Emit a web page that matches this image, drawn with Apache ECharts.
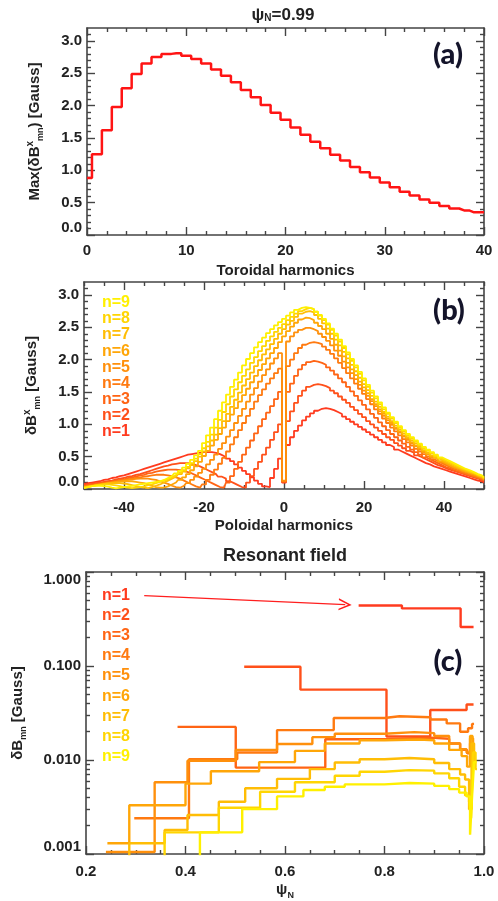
<!DOCTYPE html>
<html>
<head>
<meta charset="utf-8">
<script src="https://cdn.jsdelivr.net/npm/echarts@6/dist/echarts.min.js"></script>
<style>
  html, body { margin: 0; padding: 0; background: #fff; }
  #main { width: 498px; height: 901px; }
</style>
</head>
<body>
<div id="main"></div>
<script>
// ---- panel (a): max field per toroidal harmonic (psi_N = 0.99)
const toroidalN = [0,1,2,3,4,5,6,7,8,9,10,11,12,13,14,15,16,17,18,19,20,
  21,22,23,24,25,26,27,28,29,30,31,32,33,34,35,36,37,38,39,40];
const maxDeltaB = [0.88,1.25,1.62,1.98,2.27,2.49,2.65,2.75,2.80,2.81,2.77,2.72,2.65,2.56,2.46,2.36,
  2.24,2.13,2.01,1.89,1.78,1.66,1.55,1.44,1.34,1.24,1.15,1.05,0.97,0.89,0.81,0.74,0.67,0.61,0.55,
  0.50,0.45,0.41,0.38,0.35,0.35];

// ---- panel (b): poloidal spectrum for n = 1..9
const poloidalM = [-50,-49,-48,-47,-46,-45,-44,-43,-42,-41,-40,-39,-38,-37,-36,-35,-34,-33,-32,-31,
  -30,-29,-28,-27,-26,-25,-24,-23,-22,-21,-20,-19,-18,-17,-16,-15,-14,-13,-12,-11,
  -10,-9,-8,-7,-6,-5,-4,-3,-2,-1,0,1,2,3,4,5,6,7,8,9,10,11,12,13,14,15,16,17,18,19,
  20,21,22,23,24,25,26,27,28,29,30,31,32,33,34,35,36,37,38,39,40,41,42,43,44,45,46,47,48,49,50];
const bN1 = [0.08,0.09,0.10,0.11,0.12,0.14,0.15,0.17,0.18,0.20,
  0.21,0.23,0.25,0.27,0.29,0.31,0.33,0.35,0.37,0.39,
  0.41,0.43,0.45,0.47,0.49,0.51,0.53,0.54,0.55,0.56,
  0.57,0.57,0.57,0.56,0.54,0.51,0.47,0.43,0.38,0.33,
  0.28,0.23,0.18,0.13,0.08,0.04,0.03,0.17,0.31,0.47,
  0.10,0.68,0.80,0.90,0.98,1.06,1.12,1.17,1.21,1.24,
  1.25,1.24,1.22,1.19,1.16,1.12,1.08,1.04,1.00,0.96,
  0.92,0.88,0.84,0.80,0.76,0.72,0.68,0.65,0.61,0.58,
  0.55,0.52,0.49,0.46,0.43,0.40,0.38,0.35,0.33,0.31,
  0.29,0.27,0.25,0.23,0.21,0.19,0.17,0.15,0.13,0.12,0.10];
const bN2 = [0.06,0.07,0.08,0.09,0.10,0.11,0.12,0.13,0.15,0.16,
  0.17,0.19,0.20,0.22,0.23,0.25,0.27,0.29,0.31,0.33,
  0.35,0.36,0.38,0.39,0.40,0.40,0.40,0.39,0.37,0.35,
  0.32,0.29,0.26,0.23,0.19,0.16,0.12,0.09,0.06,0.03,
  0.02,0.10,0.20,0.31,0.42,0.53,0.64,0.76,0.88,1.00,
  0.11,1.05,1.20,1.33,1.44,1.52,1.58,1.61,1.62,1.61,
  1.59,1.56,1.52,1.48,1.43,1.38,1.33,1.27,1.22,1.16,
  1.11,1.05,1.00,0.95,0.90,0.85,0.80,0.76,0.71,0.67,
  0.63,0.59,0.56,0.52,0.49,0.46,0.43,0.40,0.37,0.35,
  0.32,0.30,0.28,0.26,0.24,0.22,0.20,0.18,0.16,0.14,0.12];
const bN3 = [0.05,0.06,0.07,0.08,0.09,0.10,0.11,0.12,0.13,0.14,
  0.15,0.17,0.18,0.19,0.21,0.22,0.24,0.25,0.27,0.28,
  0.29,0.30,0.30,0.30,0.29,0.28,0.26,0.24,0.21,0.18,
  0.15,0.12,0.09,0.06,0.03,0.02,0.10,0.20,0.31,0.42,
  0.53,0.64,0.75,0.86,0.97,1.08,1.18,1.28,1.39,1.50,
  0.12,1.50,1.63,1.75,1.85,1.92,1.96,1.98,1.97,1.95,
  1.92,1.88,1.83,1.77,1.71,1.65,1.58,1.51,1.44,1.37,
  1.30,1.23,1.16,1.10,1.03,0.97,0.91,0.85,0.80,0.75,
  0.70,0.65,0.61,0.57,0.53,0.49,0.46,0.43,0.40,0.37,
  0.34,0.32,0.29,0.27,0.25,0.23,0.21,0.19,0.17,0.15,0.13];
const bN4 = [0.04,0.05,0.06,0.07,0.08,0.09,0.10,0.11,0.12,0.13,
  0.14,0.15,0.16,0.17,0.18,0.19,0.20,0.21,0.22,0.22,
  0.22,0.21,0.20,0.18,0.16,0.13,0.10,0.07,0.04,0.02,
  0.07,0.14,0.22,0.30,0.39,0.48,0.58,0.69,0.80,0.91,
  1.02,1.13,1.24,1.35,1.45,1.54,1.63,1.71,1.79,1.86,
  0.12,1.90,2.00,2.10,2.18,2.23,2.26,2.27,2.26,2.24,
  2.20,2.15,2.09,2.02,1.95,1.87,1.79,1.71,1.63,1.55,
  1.47,1.39,1.31,1.23,1.16,1.09,1.02,0.95,0.89,0.83,
  0.77,0.72,0.67,0.62,0.58,0.54,0.50,0.46,0.43,0.40,
  0.37,0.34,0.31,0.29,0.26,0.24,0.22,0.20,0.18,0.16,0.14];
const bN5 = [0.035,0.04,0.05,0.06,0.07,0.08,0.09,0.10,0.11,0.12,
  0.13,0.14,0.15,0.155,0.16,0.16,0.16,0.15,0.14,0.12,
  0.10,0.08,0.05,0.03,0.02,0.05,0.09,0.14,0.19,0.25,
  0.31,0.38,0.45,0.53,0.62,0.71,0.81,0.91,1.02,1.13,
  1.24,1.35,1.46,1.56,1.66,1.76,1.85,1.94,2.02,2.10,
  0.13,2.28,2.36,2.42,2.46,2.49,2.49,2.47,2.44,2.40,
  2.35,2.29,2.22,2.14,2.06,1.97,1.88,1.79,1.70,1.61,
  1.52,1.44,1.36,1.28,1.20,1.13,1.06,0.99,0.93,0.87,
  0.81,0.76,0.70,0.66,0.61,0.57,0.53,0.49,0.46,0.42,
  0.39,0.36,0.33,0.31,0.28,0.26,0.24,0.22,0.20,0.17,0.15];
const bN6 = [0.03,0.04,0.05,0.06,0.07,0.08,0.09,0.10,0.11,0.115,
  0.12,0.12,0.12,0.11,0.10,0.09,0.07,0.05,0.03,0.02,
  0.02,0.04,0.07,0.10,0.14,0.18,0.23,0.29,0.35,0.42,
  0.51,0.59,0.67,0.76,0.85,0.95,1.05,1.15,1.25,1.35,
  1.45,1.55,1.65,1.75,1.84,1.93,2.02,2.10,2.18,2.27,
  2.36,2.44,2.51,2.57,2.62,2.65,2.64,2.61,2.57,2.52,
  2.47,2.40,2.32,2.23,2.14,2.05,1.95,1.85,1.76,1.66,
  1.57,1.48,1.39,1.31,1.23,1.16,1.09,1.02,0.95,0.89,
  0.83,0.78,0.72,0.67,0.63,0.58,0.54,0.50,0.47,0.43,
  0.40,0.37,0.34,0.32,0.29,0.27,0.25,0.23,0.20,0.18,0.15];
const bN7 = [0.025,0.035,0.045,0.055,0.065,0.075,0.085,0.09,0.09,0.09,
  0.085,0.075,0.06,0.045,0.03,0.02,0.015,0.03,0.05,0.07,
  0.10,0.13,0.16,0.19,0.23,0.27,0.32,0.37,0.43,0.50,
  0.58,0.66,0.75,0.84,0.94,1.05,1.16,1.27,1.38,1.49,
  1.60,1.70,1.80,1.90,1.99,2.08,2.16,2.24,2.32,2.40,
  2.47,2.54,2.60,2.66,2.71,2.74,2.75,2.73,2.69,2.63,
  2.56,2.48,2.40,2.31,2.22,2.12,2.02,1.92,1.82,1.72,
  1.62,1.53,1.44,1.35,1.27,1.19,1.12,1.05,0.98,0.92,
  0.86,0.80,0.75,0.70,0.65,0.60,0.56,0.52,0.48,0.45,
  0.42,0.39,0.36,0.33,0.31,0.28,0.26,0.24,0.21,0.19,0.16];
const bN8 = [0.02,0.03,0.045,0.055,0.065,0.07,0.07,0.065,0.055,0.045,
  0.03,0.02,0.015,0.02,0.03,0.04,0.06,0.07,0.09,0.11,
  0.13,0.15,0.18,0.21,0.25,0.29,0.34,0.40,0.47,0.54,
  0.63,0.73,0.84,0.95,1.07,1.19,1.31,1.43,1.54,1.65,
  1.75,1.85,1.95,2.04,2.13,2.21,2.29,2.36,2.43,2.49,
  2.55,2.61,2.66,2.71,2.75,2.78,2.80,2.78,2.74,2.68,
  2.61,2.54,2.46,2.37,2.28,2.18,2.08,1.98,1.88,1.78,
  1.68,1.58,1.49,1.40,1.31,1.23,1.16,1.09,1.02,0.95,
  0.89,0.83,0.78,0.73,0.68,0.63,0.59,0.55,0.51,0.47,
  0.44,0.41,0.38,0.35,0.32,0.30,0.27,0.25,0.22,0.20,0.17];
const bN9 = [0.015,0.03,0.045,0.05,0.05,0.045,0.035,0.02,0.01,0.02,
  0.03,0.04,0.05,0.06,0.07,0.08,0.09,0.10,0.11,0.12,
  0.14,0.17,0.20,0.24,0.28,0.33,0.39,0.45,0.52,0.59,
  0.71,0.83,0.95,1.08,1.21,1.34,1.46,1.58,1.69,1.80,
  1.91,2.01,2.10,2.19,2.27,2.34,2.41,2.47,2.53,2.58,
  2.63,2.68,2.73,2.77,2.80,2.81,2.80,2.78,2.74,2.69,
  2.63,2.56,2.48,2.40,2.31,2.21,2.11,2.01,1.91,1.81,
  1.71,1.61,1.52,1.43,1.34,1.26,1.18,1.11,1.04,0.97,
  0.91,0.85,0.80,0.75,0.70,0.65,0.61,0.57,0.53,0.49,
  0.46,0.43,0.40,0.37,0.34,0.31,0.29,0.26,0.23,0.21,0.18];

// ---- panel (c): resonant field vs psi_N (step starts, value held to next start)
const res1Psi = [0.748, 0.835, 0.953, 0.979];
const res1Val = [0.44, 0.41, 0.26, 0.26];
const res2Psi = [0.518, 0.631, 0.804, 0.892, 0.965, 0.979];
const res2Val = [0.098, 0.056, 0.0178, 0.034, 0.039, 0.039];
const res3Psi = [0.384, 0.501, 0.681, 0.80, 0.892, 0.93, 0.952, 0.966, 0.972, 0.978, 0.982];
const res3Val = [0.0225, 0.0083, 0.0166, 0.0173, 0.0168, 0.0150, 0.0128, 0.0118, 0.0150, 0.0105, 0.0105];
const res4Psi = [0.297, 0.407, 0.504, 0.584, 0.698, 0.80, 0.83, 0.892, 0.925, 0.952, 0.968, 0.976, 0.980];
const res4Val = [0.0024, 0.0102, 0.0120, 0.0208, 0.0280, 0.0292, 0.0285, 0.0270, 0.0245, 0.0200, 0.0218, 0.0242, 0.0242];
const res5Psi = [0.24, 0.338, 0.404, 0.501, 0.584, 0.655, 0.70, 0.80, 0.86, 0.90, 0.93, 0.952, 0.965, 0.972, 0.978, 0.982];
const res5Val = [0.00105, 0.0058, 0.0098, 0.0128, 0.0148, 0.0175, 0.0190, 0.0198, 0.0193, 0.0180, 0.0150, 0.0130, 0.0120, 0.0170, 0.0130, 0.0130];
const res6Psi = [0.243, 0.287, 0.40, 0.451, 0.548, 0.62, 0.68, 0.75, 0.80, 0.87, 0.90, 0.93, 0.955, 0.966, 0.972, 0.977, 0.982];
const res6Val = [0.0013, 0.0033, 0.0056, 0.0076, 0.0095, 0.0125, 0.0150, 0.0162, 0.0165, 0.0162, 0.0150, 0.0128, 0.0110, 0.0085, 0.0180, 0.0090, 0.0090];
const res7Psi = [0.26, 0.287, 0.358, 0.404, 0.467, 0.52, 0.584, 0.65, 0.70, 0.75, 0.80, 0.85, 0.90, 0.93, 0.952, 0.962, 0.970, 0.975, 0.980, 0.984];
const res7Val = [0.0007, 0.0013, 0.0018, 0.0026, 0.0036, 0.0050, 0.0063, 0.0080, 0.0094, 0.0102, 0.0105, 0.0102, 0.0093, 0.0080, 0.0070, 0.0062, 0.0030, 0.0150, 0.0085, 0.0085];
const res8Psi = [0.33, 0.358, 0.467, 0.55, 0.62, 0.70, 0.75, 0.80, 0.85, 0.90, 0.93, 0.95, 0.962, 0.970, 0.974, 0.978, 0.983, 0.986];
const res8Val = [0.0007, 0.0017, 0.0031, 0.0046, 0.0058, 0.0068, 0.0075, 0.0078, 0.0077, 0.0072, 0.0064, 0.0052, 0.0042, 0.0036, 0.0024, 0.0120, 0.0080, 0.0080];
const res9Psi = [0.40, 0.429, 0.514, 0.584, 0.637, 0.68, 0.72, 0.80, 0.85, 0.90, 0.93, 0.95, 0.965, 0.972, 0.976, 0.980, 0.985];
const res9Val = [0.0006, 0.0017, 0.0030, 0.0041, 0.0048, 0.0052, 0.0055, 0.0057, 0.0056, 0.0053, 0.0049, 0.0045, 0.0041, 0.0016, 0.0041, 0.0095, 0.0095];
const arrowFrom = [0.317, 0.56];
const arrowTo = [0.721, 0.45];

// ---- tick values
const torMajor = [0, 10, 20, 30, 40];
const torMinor = [2,4,6,8,12,14,16,18,22,24,26,28,32,34,36,38];
const fieldMajor = [0, 0.5, 1, 1.5, 2, 2.5, 3];
const fieldMinor = [0.1,0.2,0.3,0.4,0.6,0.7,0.8,0.9,1.1,1.2,1.3,1.4,1.6,1.7,1.8,1.9,2.1,2.2,2.3,2.4,2.6,2.7,2.8,2.9,3.1];
const polMajor = [-40, -20, 0, 20, 40];
const polMinor = [-50,-45,-35,-30,-25,-15,-10,-5,5,10,15,25,30,35,45,50];
const psiMajor = [0.2, 0.4, 0.6, 0.8, 1.0];
const psiMinor = [0.25,0.3,0.35,0.45,0.5,0.55,0.65,0.7,0.75,0.85,0.9,0.95];
const resMajor = [0.001, 0.01, 0.1, 1];
const resMinor = [0.002,0.003,0.004,0.005,0.006,0.007,0.008,0.009,
  0.02,0.03,0.04,0.05,0.06,0.07,0.08,0.09,0.2,0.3,0.4,0.5,0.6,0.7,0.8,0.9];

const nLabels = ['n=1','n=2','n=3','n=4','n=5','n=6','n=7','n=8','n=9'];
const nColors = ['#ff3b1f','#ff501a','#ff6414','#ff7a10','#ff900c','#ffa608','#ffbd05','#ffd503','#fff000'];

const FONT = '"Liberation Sans", Arial, sans-serif';
const INK = '#222';
const BOX = '#444';

const chart = echarts.init(document.getElementById('main'));

const subSup = {
  sup: { fontSize: 10, fontWeight: 'bold', fontFamily: FONT, color: INK, verticalAlign: 'top' },
  sub: { fontSize: 9, fontWeight: 'bold', fontFamily: FONT, color: INK, verticalAlign: 'bottom' }
};

// four axes per side pair: main (labels+major ticks), minor ticks, opposite major, opposite minor
function axisSet(dim, g, type, min, max, majors, minors, main) {
  const first = dim === 'x' ? 'bottom' : 'left';
  const second = dim === 'x' ? 'top' : 'right';
  const mk = (pos, ticks, len, line, extra) => Object.assign({
    type: type, gridIndex: g, min: min, max: max, position: pos,
    logBase: 10,
    splitLine: { show: false },
    axisLine: { show: line, onZero: false, lineStyle: { color: BOX, width: 1.6 } },
    axisTick: { show: true, inside: true, length: len, customValues: ticks,
      lineStyle: { color: BOX, width: 1.4 } },
    axisLabel: { show: false }
  }, extra || {});
  return [
    mk(first, majors, 8, true, main),
    mk(first, minors, 4, false),
    mk(second, majors, 8, true),
    mk(second, minors, 4, false)
  ];
}

function labelStyle(values, fmt, margin, extra) {
  return Object.assign({ show: true, customValues: values, formatter: fmt, margin: margin,
    color: INK, fontFamily: FONT, fontWeight: 'bold', fontSize: 15 }, extra || {});
}
function nameStyle() {
  return { color: INK, fontFamily: FONT, fontWeight: 'bold', fontSize: 15, lineHeight: 20, rich: subSup };
}

const xAxes = [].concat(
  axisSet('x', 0, 'value', 0, 40, torMajor, torMinor, {
    axisLabel: labelStyle(torMajor, v => String(v), 8),
    name: 'Toroidal harmonics', nameLocation: 'middle', nameGap: 26, nameTextStyle: nameStyle()
  }),
  axisSet('x', 1, 'value', -50, 50, polMajor, polMinor, {
    axisLabel: labelStyle(polMajor, v => String(v), 11),
    name: 'Poloidal harmonics', nameLocation: 'middle', nameGap: 27, nameTextStyle: nameStyle()
  }),
  axisSet('x', 2, 'value', 0.2, 1.0, psiMajor, psiMinor, {
    axisLabel: labelStyle(psiMajor, v => v.toFixed(1), 10),
    name: 'ψ{sub|N}', nameLocation: 'middle', nameGap: 26, nameTextStyle: nameStyle()
  })
);

const yAxes = [].concat(
  axisSet('y', 0, 'value', 0, 3.2, fieldMajor, fieldMinor, {
    axisLabel: labelStyle(fieldMajor, v => v.toFixed(1), 5, { verticalAlignMinLabel: 'bottom' }),
    name: 'Max(δB{sup|x}{sub|mn}) [Gauss]', nameLocation: 'middle', nameGap: 42, nameTextStyle: nameStyle()
  }),
  axisSet('y', 1, 'value', 0, 3.2, fieldMajor, fieldMinor, {
    axisLabel: labelStyle(fieldMajor, v => v.toFixed(1), 5, { verticalAlignMinLabel: 'bottom' }),
    name: 'δB{sup|x}{sub|mn} [Gauss]', nameLocation: 'middle', nameGap: 42, nameTextStyle: nameStyle()
  }),
  axisSet('y', 2, 'log', 0.001, 1, resMajor, resMinor, {
    axisLabel: labelStyle(resMajor, v => Number(v).toFixed(3), 5,
      { verticalAlignMinLabel: 'bottom', verticalAlignMaxLabel: 'top' }),
    name: 'δB{sub|mn} [Gauss]', nameLocation: 'middle', nameGap: 58, nameTextStyle: nameStyle()
  })
);

const series = [];
series.push({
  type: 'line', xAxisIndex: 0, yAxisIndex: 0, step: 'middle', symbol: 'none',
  lineStyle: { color: '#ff1414', width: 2.5 },
  data: toroidalN.map((n, i) => [n, maxDeltaB[i]])
});

const spectra = [bN1, bN2, bN3, bN4, bN5, bN6, bN7, bN8, bN9];
spectra.forEach((vals, k) => {
  series.push({
    type: 'line', xAxisIndex: 4, yAxisIndex: 4, step: 'middle', symbol: 'none',
    lineStyle: { color: nColors[k], width: 1.8 },
    data: poloidalM.map((m, i) => [m, vals[i]])
  });
});

const resPsi = [res1Psi, res2Psi, res3Psi, res4Psi, res5Psi, res6Psi, res7Psi, res8Psi, res9Psi];
const resVal = [res1Val, res2Val, res3Val, res4Val, res5Val, res6Val, res7Val, res8Val, res9Val];
const chevron = 'path://M0,10 L5,0 L10,10 L8.6,10 L5,2.8 L1.4,10 Z';
resPsi.forEach((psi, k) => {
  const s = {
    type: 'line', xAxisIndex: 8, yAxisIndex: 8, step: 'end', symbol: 'none', clip: true,
    lineStyle: { color: nColors[k], width: 2.4 },
    data: psi.map((p, i) => [p, resVal[k][i]])
  };
  if (k === 0) {
    s.markLine = {
      silent: true, animation: false,
      symbol: ['none', chevron], symbolSize: [12, 13],
      label: { show: false },
      lineStyle: { color: '#ff1e1e', width: 1.3, type: 'solid' },
      emphasis: { disabled: true },
      data: [[{ coord: arrowFrom }, { coord: arrowTo }]]
    };
  }
  series.push(s);
});

const legendYB = [432, 416, 400, 384, 368, 352, 335, 319, 303];
const legendYC = [596, 616, 636, 656, 676, 697, 717, 737, 757];
const graphics = [];
function txt(x, y, text, opts) {
  graphics.push({ type: 'text', x: x, y: y, silent: true,
    style: Object.assign({ text: text, fill: INK, fontFamily: FONT, fontWeight: 'bold', fontSize: 15,
      textAlign: 'left', textVerticalAlign: 'middle' }, opts) });
}
txt(283, 15, 'ψ{sub|N}=0.99', { textAlign: 'center', fontSize: 17,
  rich: { sub: { fontSize: 10, fontWeight: 'bold', fontFamily: FONT, fill: INK, verticalAlign: 'bottom' } } });
txt(285, 556, 'Resonant field', { textAlign: 'center', fontSize: 18 });
const letterStyle = { textAlign: 'center', fontFamily: 'Lato, "Open Sans", sans-serif', fontWeight: 900,
  fontSize: 29, fill: '#14142a' };
txt(448, 55, '(a)', letterStyle);
txt(449, 311, '(b)', letterStyle);
txt(448, 662, '(c)', letterStyle);
nLabels.forEach((lab, k) => {
  txt(102, legendYB[k], lab, { fill: nColors[k], fontSize: 16 });
  txt(102, legendYC[k], lab, { fill: nColors[k], fontSize: 16 });
});

chart.setOption({
  animation: false,
  backgroundColor: '#fff',
  grid: [
    { left: 87, top: 28, width: 397, height: 207 },
    { left: 84, top: 282, width: 400, height: 207 },
    { left: 85, top: 572, width: 399, height: 283 }
  ],
  xAxis: xAxes,
  yAxis: yAxes,
  series: series,
  graphic: graphics
});
</script>
</body>
</html>
